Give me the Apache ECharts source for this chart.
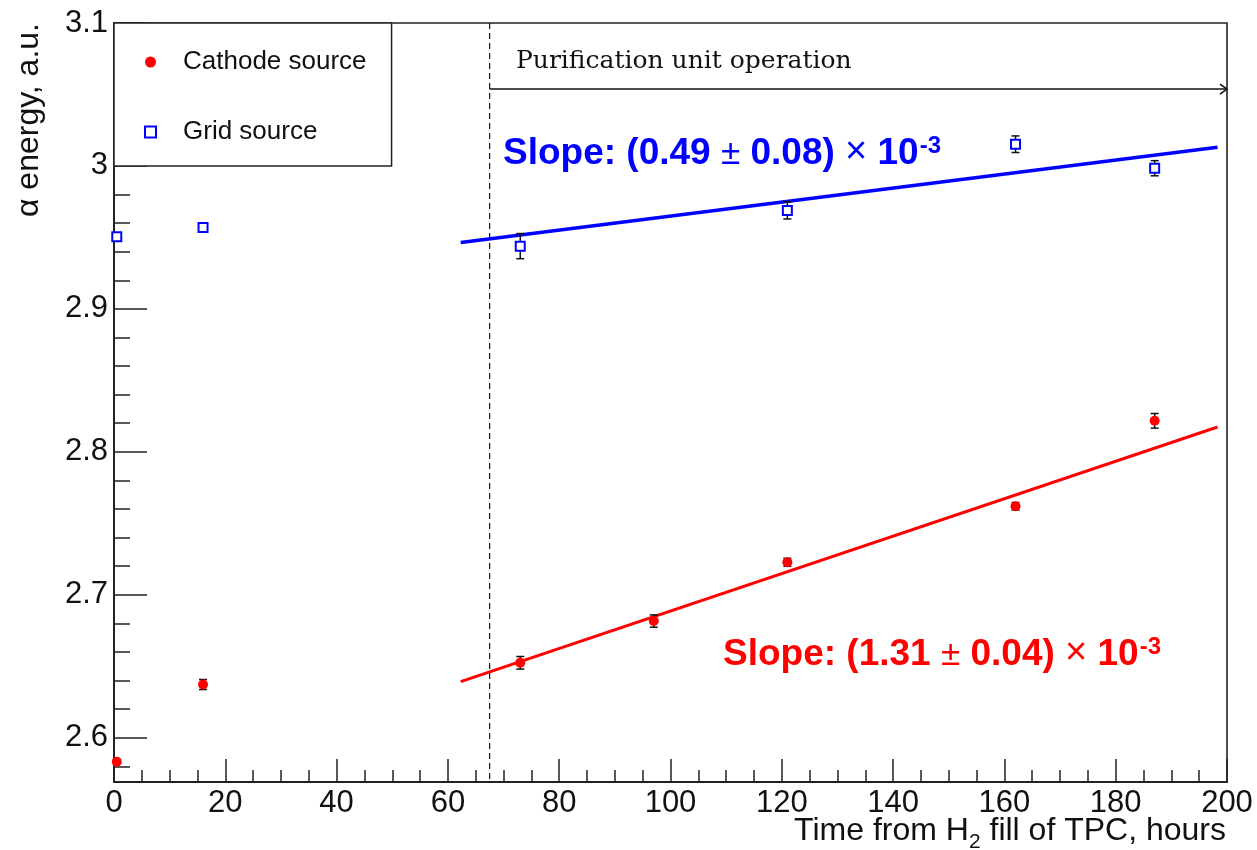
<!DOCTYPE html>
<html>
<head>
<meta charset="utf-8">
<title>Alpha energy vs time</title>
<script src="https://cdn.jsdelivr.net/npm/echarts@6/dist/echarts.min.js"></script>
<style>
  html, body { margin: 0; padding: 0; background: #ffffff; }
  #chart { width: 1257px; height: 850px; }
</style>
</head>
<body>
<div id="chart"></div>
<script>
// ---- measurements ----
const cathodeHours  = [0.5, 16, 73, 97, 121, 162, 187];
const cathodeEnergy = [2.5832, 2.6372, 2.6524, 2.6816, 2.7227, 2.7619, 2.8217];
const cathodeError  = [0.0015, 0.0035, 0.0044, 0.0043, 0.0028, 0.0026, 0.0051];

const gridHours  = [0.5, 16, 73, 121, 162, 187];
const gridEnergy = [2.9504, 2.9570, 2.9439, 2.9689, 3.0152, 2.9984];
const gridError  = [0.0015, 0.0015, 0.0088, 0.0060, 0.0058, 0.0053];

// ---- linear fits (slope per hour, intercept at t = 0) ----
const gridFit     = [0.49e-3, 2.9159];
const cathodeFit  = [1.31e-3, 2.5576];
const fitRange    = [62.3, 198.3];

// ---- purification period marker: start hour, arrow height, end hour ----
const purification = [67.5, 3.0538, 200];

// ---- axes ----
const xRange = [0, 200];
const yRange = [2.569, 3.1];
const yMajorTicks = [2.6, 2.7, 2.8, 2.9, 3.0, 3.1];
const yMinorTicks = [2.58, 2.62, 2.64, 2.66, 2.68, 2.72, 2.74, 2.76, 2.78,
                     2.82, 2.84, 2.86, 2.88, 2.92, 2.94, 2.96, 2.98,
                     3.02, 3.04, 3.06, 3.08];

const SANS = '"Liberation Sans", Arial, Helvetica, sans-serif';
const INK = '#111111';

function errorRows(xs, ys, es) {
  return xs.map((x, i) => [x, ys[i] - es[i], ys[i] + es[i]]);
}
function fitLine(fit) {
  return fitRange.map(x => [x, fit[1] + fit[0] * x]);
}

function renderErrorBar(params, api) {
  const x = api.value(0);
  const lo = api.coord([x, api.value(1)]);
  const hi = api.coord([x, api.value(2)]);
  const cap = 4;
  const st = { stroke: INK, lineWidth: 1.5 };
  return {
    type: 'group',
    children: [
      { type: 'line', shape: { x1: lo[0], y1: lo[1], x2: hi[0], y2: hi[1] }, style: st },
      { type: 'line', shape: { x1: hi[0] - cap, y1: hi[1], x2: hi[0] + cap, y2: hi[1] }, style: st },
      { type: 'line', shape: { x1: lo[0] - cap, y1: lo[1], x2: lo[0] + cap, y2: lo[1] }, style: st }
    ]
  };
}

function renderPurification(params, api) {
  const cs = params.coordSys;
  const start = api.coord([api.value(0), api.value(1)]);
  const end = api.coord([api.value(2), api.value(1)]);
  return {
    type: 'group',
    children: [
      { type: 'line',
        shape: { x1: start[0], y1: cs.y, x2: start[0], y2: cs.y + cs.height },
        style: { stroke: INK, lineWidth: 1.2, lineDash: [6, 4] } },
      { type: 'line',
        shape: { x1: start[0], y1: start[1], x2: end[0], y2: end[1] },
        style: { stroke: INK, lineWidth: 1.6 } },
      { type: 'polyline',
        shape: { points: [[end[0] - 7, end[1] - 5], [end[0], end[1]], [end[0] - 7, end[1] + 5]] },
        style: { stroke: INK, lineWidth: 1.6, fill: null } }
    ]
  };
}

function slopeLabel(text, color) {
  return {
    text: text,
    align: 'left', verticalAlign: 'top',
    rich: {
      m: { fontSize: 37, fontWeight: 'bold', fontFamily: SANS, fill: color, lineHeight: 38, verticalAlign: 'bottom' },
      p: { fontSize: 35, fontWeight: 'normal', fontFamily: SANS, fill: color, lineHeight: 38, verticalAlign: 'bottom' },
      x: { fontSize: 38, fontWeight: 'normal', fontFamily: SANS, fill: color, lineHeight: 38, verticalAlign: 'bottom' },
      s: { fontSize: 24, fontWeight: 'bold', fontFamily: SANS, fill: color, lineHeight: 22, verticalAlign: 'top', padding: [0, 0, 20, 1] }
    }
  };
}

const chart = echarts.init(document.getElementById('chart'), null, { renderer: 'canvas' });

const option = {
  backgroundColor: '#ffffff',
  animation: false,
  grid: {
    left: 114, right: 30, top: 23, bottom: 68,
    show: true, borderColor: '#222222', borderWidth: 1.6, backgroundColor: 'transparent'
  },
  xAxis: {
    type: 'value', min: xRange[0], max: xRange[1], interval: 20,
    axisLine: { show: true, onZero: false, lineStyle: { color: '#222222', width: 2 } },
    axisTick: { show: true, inside: true, length: 23, lineStyle: { color: '#222222', width: 1.5 } },
    minorTick: { show: true, splitNumber: 4, length: 12, lineStyle: { color: '#222222', width: 1.5 } },
    axisLabel: { show: true, margin: 6, fontSize: 31, fontFamily: SANS, color: INK,
                 showMinLabel: true, showMaxLabel: true },
    splitLine: { show: false }, minorSplitLine: { show: false }
  },
  yAxis: [
    {
      type: 'value', min: yRange[0], max: yRange[1], position: 'left',
      axisLine: { show: true, onZero: false, lineStyle: { color: '#222222', width: 2 } },
      axisTick: { show: true, inside: true, length: 33, customValues: yMajorTicks,
                  lineStyle: { color: '#222222', width: 1.5 } },
      axisLabel: { show: true, margin: 6, fontSize: 31, fontFamily: SANS, color: INK,
                   customValues: yMajorTicks,
                   formatter: v => String(Math.round(v * 10) / 10) },
      splitLine: { show: false }
    },
    {
      type: 'value', min: yRange[0], max: yRange[1], position: 'left',
      axisLine: { show: false },
      axisTick: { show: true, inside: true, length: 16, customValues: yMinorTicks,
                  lineStyle: { color: '#222222', width: 1.5 } },
      axisLabel: { show: false },
      splitLine: { show: false }
    }
  ],
  legend: {
    data: ['Cathode source', 'Grid source'],
    orient: 'vertical', left: 114, top: 23,
    padding: [26, 25, 21, 30], itemGap: 44,
    itemWidth: 11, itemHeight: 11,
    backgroundColor: '#ffffff', borderColor: '#222222', borderWidth: 1.5, borderRadius: 0,
    selectedMode: false,
    textStyle: { fontSize: 26, fontFamily: SANS, color: INK, padding: [0, 0, 0, 22] }
  },
  series: [
    {
      name: 'cathode fit', type: 'line', data: fitLine(cathodeFit),
      showSymbol: false, lineStyle: { color: '#ff0000', width: 3 }, z: 3, silent: true
    },
    {
      name: 'grid fit', type: 'line', data: fitLine(gridFit),
      showSymbol: false, lineStyle: { color: '#0000ff', width: 3.5 }, z: 3, silent: true
    },
    {
      name: 'cathode errors', type: 'custom', renderItem: renderErrorBar,
      data: errorRows(cathodeHours, cathodeEnergy, cathodeError),
      encode: { x: 0, y: [1, 2] }, z: 4, silent: true
    },
    {
      name: 'grid errors', type: 'custom', renderItem: renderErrorBar,
      data: errorRows(gridHours, gridEnergy, gridError),
      encode: { x: 0, y: [1, 2] }, z: 4, silent: true
    },
    {
      name: 'Cathode source', type: 'scatter', symbol: 'circle', symbolSize: 10,
      data: cathodeHours.map((h, i) => [h, cathodeEnergy[i]]),
      itemStyle: { color: '#ff0000', opacity: 1 }, z: 5
    },
    {
      name: 'Grid source', type: 'scatter', symbol: 'rect', symbolSize: 9,
      data: gridHours.map((h, i) => [h, gridEnergy[i]]),
      itemStyle: { color: '#ffffff', borderColor: '#0000ff', borderWidth: 2, opacity: 1 }, z: 5
    },
    {
      name: 'purification', type: 'custom', renderItem: renderPurification,
      data: [purification], encode: { x: [0, 2], y: 1 }, z: 2, silent: true
    }
  ],
  graphic: [
    {
      type: 'text', x: 516, y: 61, z: 10,
      style: { text: 'Purification unit operation', font: '25px "DejaVu Serif", serif',
               fill: INK, align: 'left', verticalAlign: 'middle' }
    },
    {
      type: 'text', x: 503, y: 134, z: 10,
      style: slopeLabel('{m|Slope: (0.49 }{p|±}{m| 0.08) }{x|×}{m| 10}{s|-3}', '#0000ff')
    },
    {
      type: 'text', x: 723, y: 635, z: 10,
      style: slopeLabel('{m|Slope: (1.31 }{p|±}{m| 0.04) }{x|×}{m| 10}{s|-3}', '#ff0000')
    },
    {
      type: 'text', x: 29, y: 23, rotation: Math.PI / 2, z: 10,
      style: { text: 'α energy, a.u.', fontSize: 32, fontFamily: SANS, fill: INK,
               align: 'right', verticalAlign: 'middle' }
    },
    {
      type: 'text', x: 1226, y: 815, z: 10,
      style: {
        text: '{m|Time from H}{s|2}{m| fill of TPC, hours}',
        align: 'right', verticalAlign: 'top',
        rich: {
          m: { fontSize: 32, fontFamily: SANS, fill: INK, lineHeight: 32, verticalAlign: 'top' },
          s: { fontSize: 21, fontFamily: SANS, fill: INK, lineHeight: 21, padding: [23, 0, 0, 0] }
        }
      }
    }
  ]
};

chart.setOption(option);
</script>
</body>
</html>
